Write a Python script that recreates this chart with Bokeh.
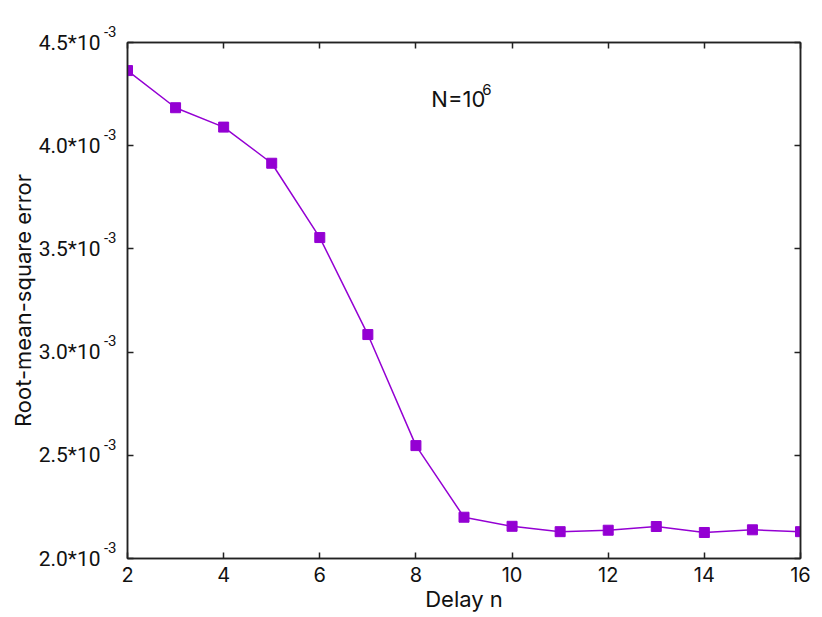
from bokeh.plotting import figure
from bokeh.models import LinearAxis, Range1d, FixedTicker, Label
from bokeh.embed import file_html
from bokeh.resources import INLINE

delay = [2, 3, 4, 5, 6, 7, 8, 9, 10, 11, 12, 13, 14, 15, 16]
rmse = [4.364e-3, 4.184e-3, 4.090e-3, 3.915e-3, 3.555e-3, 3.085e-3, 2.547e-3,
        2.200e-3, 2.156e-3, 2.130e-3, 2.137e-3, 2.155e-3, 2.126e-3, 2.139e-3, 2.130e-3]
x_ticks = [2, 4, 6, 8, 10, 12, 14, 16]
y_ticks = [2.0e-3, 2.5e-3, 3.0e-3, 3.5e-3, 4.0e-3, 4.5e-3]
y_tick_mantissa = ["2.0*10", "2.5*10", "3.0*10", "3.5*10", "4.0*10", "4.5*10"]
y_tick_exponent = "-3"
annotation_base = "N=10"
annotation_exp = "6"
annotation_pos = (8.32, 4.224e-3)

FONT = "Inter"
TICK_FONT = "Roboto"
COLOR = "#9400D3"
INK = "#111111"
FRAME = "#222222"

p = figure(frame_width=673, frame_height=516, output_backend="svg", toolbar_location=None,
           x_range=Range1d(2, 16), y_range=Range1d(2.0e-3, 4.5e-3),
           min_border_left=127, min_border_top=42, min_border_right=12, min_border_bottom=50)
p.grid.visible = False
p.outline_line_color = FRAME
p.outline_line_width = 1.5

p.line(delay, rmse, line_color=COLOR, line_width=1.5)
p.scatter(delay, rmse, marker="square", size=10, fill_color=COLOR, line_color=COLOR)

def style(ax, size="20px"):
    ax.major_tick_in = 6
    ax.major_tick_out = 0
    ax.minor_tick_line_color = None
    ax.axis_line_color = FRAME
    ax.axis_line_width = 1.5
    ax.major_tick_line_color = FRAME
    ax.major_tick_line_width = 1.5
    ax.major_label_text_font = FONT
    if size:
        ax.major_label_text_font_size = size
        ax.major_label_text_color = INK
    else:
        ax.major_label_text_font_size = "0px"
        ax.major_label_text_color = None
    ax.axis_label_text_font = FONT
    ax.axis_label_text_font_size = "22px"
    ax.axis_label_text_font_style = "normal"
    ax.axis_label_text_color = INK

# bottom axis
xa = p.xaxis[0]
xa.ticker = FixedTicker(ticks=x_ticks)
xa.axis_label = "Delay n"
xa.major_label_standoff = 8
xa.axis_label_standoff = 1
style(xa)

# left axis nearest the frame: exponent part of the tick labels (raised by a blank 2nd line)
ya = p.yaxis[0]
ya.ticker = FixedTicker(ticks=y_ticks)
ya.major_label_overrides = {t: y_tick_exponent + "\n " for t in y_ticks}
ya.major_label_standoff = 11
style(ya, size="15px")
ya.major_label_text_font = TICK_FONT
ya.major_label_text_align = "right"

# outer left axis: mantissa part of the tick labels + axis title
ya2 = LinearAxis(ticker=FixedTicker(ticks=y_ticks))
style(ya2, size="21px")
ya2.major_label_text_font = TICK_FONT
ya2.major_label_overrides = {t: l for t, l in zip(y_ticks, y_tick_mantissa)}
ya2.major_label_standoff = 0
ya2.axis_line_color = None
ya2.major_tick_line_color = None
ya2.major_tick_in = 0
ya2.axis_label = "Root-mean-square error"
ya2.axis_label_standoff = 0
p.add_layout(ya2, "left")

top = LinearAxis(ticker=FixedTicker(ticks=x_ticks), major_label_standoff=0)
style(top, size=None)
p.add_layout(top, "above")
right = LinearAxis(ticker=FixedTicker(ticks=y_ticks), major_label_standoff=0)
style(right, size=None)
p.add_layout(right, "right")

ax_, ay_ = annotation_pos
p.add_layout(Label(x=ax_, y=ay_, text=annotation_base, text_font=FONT,
                   text_font_size="22px", text_color=INK, text_baseline="alphabetic"))
p.add_layout(Label(x=ax_, y=ay_, x_offset=51, y_offset=10, text=annotation_exp, text_font=FONT,
                   text_font_size="15px", text_color=INK, text_baseline="alphabetic"))

open("out.html", "w").write(file_html(p, INLINE))
